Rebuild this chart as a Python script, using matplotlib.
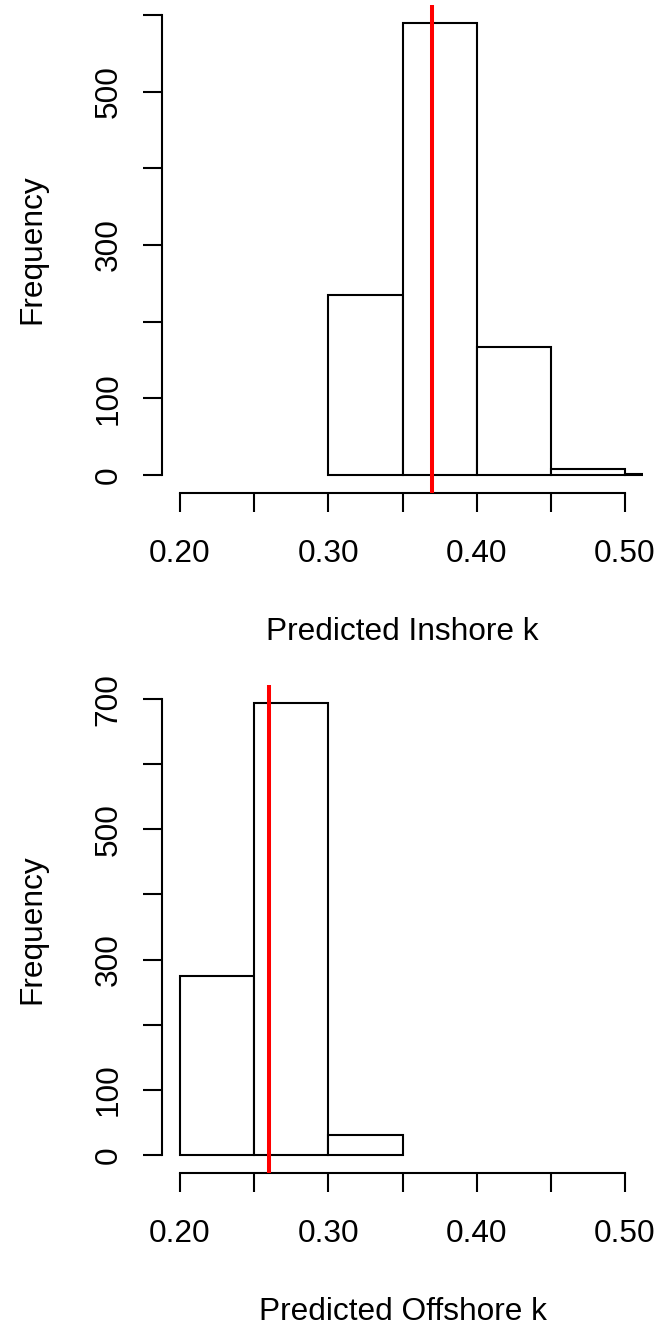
import matplotlib
matplotlib.use("Agg")
import matplotlib.pyplot as plt
import numpy as np

# ---- data ----
inshore_edges = [0.30, 0.35, 0.40, 0.45, 0.50, 0.55]
inshore_counts = [235, 589, 167, 8, 1]
inshore_mark = 0.37

offshore_edges = [0.20, 0.25, 0.30, 0.35]
offshore_counts = [275, 694, 31]
offshore_mark = 0.26

x_ticks = [0.20, 0.25, 0.30, 0.35, 0.40, 0.45, 0.50]
x_tick_labels = ["0.20", "", "0.30", "", "0.40", "", "0.50"]
inshore_yticks = [0, 100, 200, 300, 400, 500, 600]
inshore_ytick_labels = ["0", "100", "", "300", "", "500", ""]
offshore_yticks = [0, 100, 200, 300, 400, 500, 600, 700]
offshore_ytick_labels = ["0", "100", "", "300", "", "500", "", "700"]
x_titles = ["Predicted Inshore k", "Predicted Offshore k"]
y_title = "Frequency"

plt.rcParams["font.family"] = ["Liberation Sans", "DejaVu Sans"]
FS = 22.8
LW = 1.5
W, H = 660, 1327
fig = plt.figure(figsize=(W / 100, H / 100), dpi=100)

def panel(rect, edges, counts, mark, yticks, ylabels, xtitle):
    ax = fig.add_axes(rect)
    edges = np.asarray(edges)
    ax.bar(edges[:-1], counts, width=np.diff(edges), align="edge",
           facecolor="white", edgecolor="black", linewidth=LW, zorder=2)
    xmin, xmax = x_ticks[0], x_ticks[-1]
    dx = (xmax - xmin) * 0.04
    ymax = max(counts)
    dy = ymax * 0.04
    ax.set_xlim(xmin - dx, xmax + dx)
    ax.set_ylim(-dy, ymax + dy)
    ax.axvline(mark, color="#FF0000", linewidth=2.9, zorder=3)
    for s in ("top", "right"):
        ax.spines[s].set_visible(False)
    ax.spines["left"].set_bounds(yticks[0], yticks[-1])
    ax.spines["bottom"].set_bounds(xmin, xmax)
    for s in ("left", "bottom"):
        ax.spines[s].set_linewidth(LW)
    ax.set_xticks(x_ticks)
    ax.set_xticklabels(x_tick_labels, fontsize=FS)
    ax.set_yticks(yticks)
    ax.set_yticklabels(ylabels, fontsize=FS, rotation=90, va="center")
    ax.tick_params(axis="both", direction="out", length=13.7, width=LW)
    ax.tick_params(axis="x", pad=19.4)
    ax.tick_params(axis="y", pad=13.9)
    ax.set_xlabel(xtitle, fontsize=FS)
    ax.xaxis.set_label_coords(0.5, -0.2543)
    ax.set_ylabel(y_title, fontsize=FS)
    ax.yaxis.set_label_coords(-0.2387, 0.5)
    ax.patch.set_visible(False)
    return ax

left = 162.2 / W
width = 480.6 / W
panel([left, 1 - 493.0 / H, width, 487.7 / H], inshore_edges, inshore_counts,
      inshore_mark, inshore_yticks, inshore_ytick_labels, x_titles[0])
panel([left, 1 - 1173.0 / H, width, 488.0 / H], offshore_edges, offshore_counts,
      offshore_mark, offshore_yticks, offshore_ytick_labels, x_titles[1])

fig.savefig("out.png", dpi=100, facecolor="white")
